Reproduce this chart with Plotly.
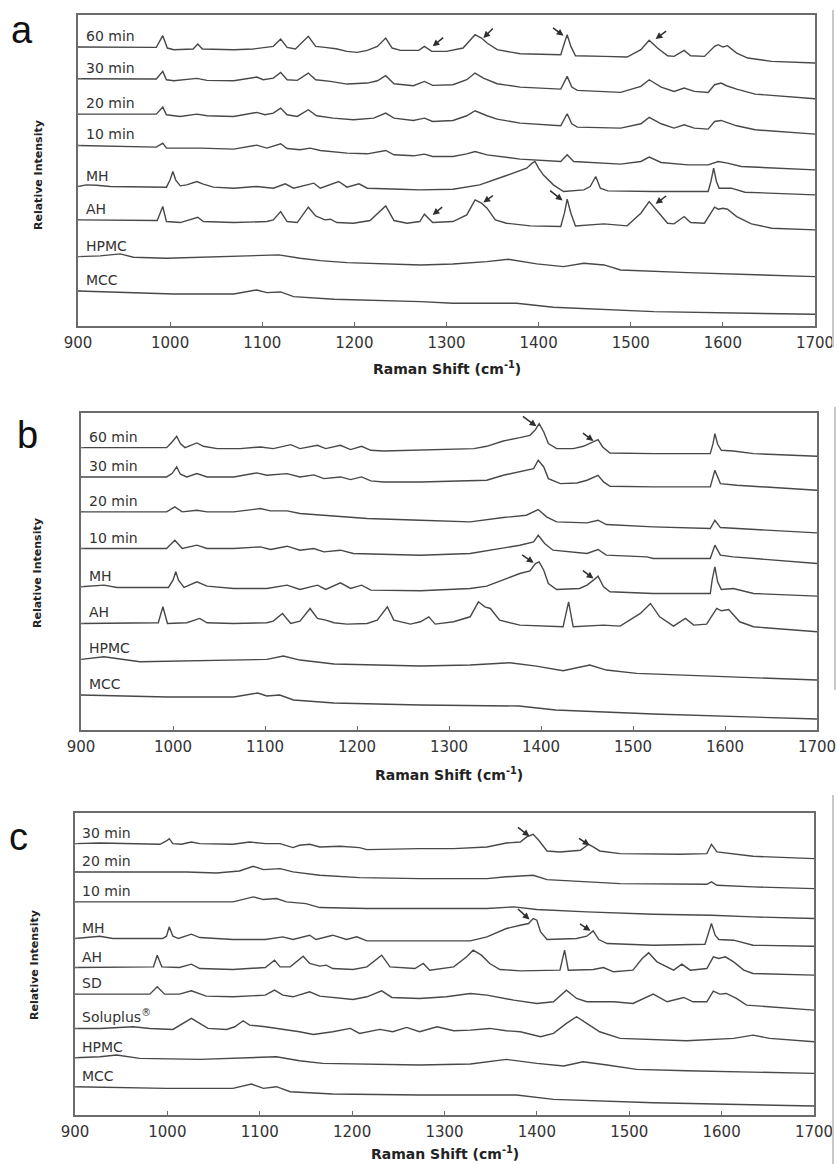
import plotly.graph_objects as go

# ---------------- Panel a : stacked Raman spectra (arbitrary units) ----------------
A_LABELS = ["60 min", "30 min", "20 min", "10 min", "MH", "AH", "HPMC", "MCC"]
A_OFFSETS = [836, 741, 635, 541, 418, 318, 208, 105]

A_X_60 = [900, 985, 992, 997, 1004, 1025, 1030, 1035, 1069, 1090, 1112, 1120, 1127, 1136, 1150, 1158, 1168, 1174, 1180, 1192,
          1203, 1214, 1225, 1234, 1241, 1250, 1270, 1276, 1284, 1300, 1318, 1331, 1338, 1344, 1355, 1380, 1424, 1428, 1431, 1435,
          1440, 1471, 1496, 1511, 1520, 1529, 1540, 1547, 1558, 1565, 1580, 1591, 1595, 1600, 1605, 1615, 1627, 1653, 1700]
A_I_60 = [0, -1, 34, -3, -8, -6, 9, -6, -8, -6, 2, 24, -1, -6, 32, 2, -1, -3, -5, -13,
          -16, -10, 2, 27, -3, -10, -10, 2, -13, -13, -3, 37, 27, 12, -8, -20, -23, 12, 37, 2,
          -26, -28, -30, -8, 20, -3, -26, -28, -10, -26, -28, 2, 7, 0, 4, -18, -33, -43, -48]

A_X_30 = [900, 985, 992, 996, 1004, 1029, 1040, 1069, 1094, 1101, 1112, 1120, 1127, 1138, 1150, 1158, 1174, 1192, 1214, 1225,
          1234, 1243, 1264, 1276, 1285, 1307, 1322, 1331, 1340, 1355, 1380, 1424, 1431, 1436, 1442, 1489, 1511, 1520, 1533, 1547,
          1558, 1569, 1584, 1591, 1598, 1604, 1615, 1635, 1700]
A_I_30 = [0, -1, 22, -3, -6, 1, -5, -6, 5, -3, 2, 19, -3, -5, 17, -3, -8, -16, -13, -6,
          9, -15, -21, -8, -20, -18, -3, 17, 2, -15, -25, -31, 7, -25, -35, -41, -23, -3, -25, -38,
          -28, -38, -41, -18, -13, -21, -31, -46, -60]

A_X_20 = [900, 985, 992, 996, 1011, 1029, 1040, 1069, 1094, 1103, 1112, 1120, 1127, 1138, 1150, 1159, 1177, 1199, 1221, 1234,
          1243, 1264, 1271, 1276, 1285, 1307, 1322, 1331, 1344, 1355, 1380, 1424, 1431, 1436, 1442, 1489, 1511, 1520, 1533, 1547,
          1558, 1569, 1584, 1591, 1598, 1605, 1615, 1635, 1700]
A_I_20 = [0, 0, 21, -2, -7, 0, -5, -7, 5, -2, 3, 18, -2, -7, 13, -5, -12, -17, -12, 3,
          -12, -19, -15, -12, -22, -19, -5, 10, -5, -15, -27, -35, 1, -29, -39, -42, -29, -10, -29, -42,
          -32, -42, -45, -22, -19, -25, -35, -47, -60]

A_X_10 = [900, 985, 992, 996, 1033, 1069, 1094, 1105, 1120, 1127, 1141, 1152, 1163, 1192, 1214, 1234, 1243, 1264, 1271, 1276,
          1285, 1307, 1322, 1331, 1344, 1380, 1424, 1431, 1438, 1489, 1511, 1520, 1533, 1562, 1584, 1595, 1605, 1620, 1700]
A_I_10 = [0, -5, 7, -8, -8, -11, 1, -8, 5, -9, -13, -8, -15, -23, -25, -15, -28, -31, -28, -26,
          -33, -33, -25, -18, -28, -41, -48, -28, -48, -56, -48, -35, -51, -58, -58, -48, -53, -63, -73]

A_X_MH = [900, 909, 920, 935, 996, 1000, 1003, 1006, 1011, 1018, 1029, 1036, 1047, 1069, 1094, 1112, 1125, 1134, 1156, 1163,
          1183, 1192, 1205, 1214, 1250, 1271, 1307, 1336, 1362, 1387, 1393, 1396, 1400, 1405, 1416, 1427, 1449, 1456, 1462, 1467,
          1475, 1525, 1584, 1587, 1590, 1593, 1596, 1609, 1624, 1700]
A_I_MH = [0, 5, 4, 0, -2, 20, 45, 20, 2, 5, 15, 7, -2, -5, 0, -5, 8, -5, 10, -5,
          15, -2, 8, -5, -8, -10, -8, 5, 30, 55, 70, 75, 55, 35, 5, -15, -10, 0, 30, -5,
          -13, -15, -15, 15, 55, 15, -5, -5, -17, -25]

A_X_AH = [900, 986, 992, 996, 1011, 1030, 1036, 1069, 1105, 1112, 1120, 1127, 1138, 1150, 1158, 1168, 1174, 1181, 1199, 1217,
          1234, 1243, 1257, 1271, 1276, 1285, 1307, 1322, 1331, 1338, 1344, 1353, 1365, 1391, 1424, 1428, 1431, 1435, 1440, 1471,
          1496, 1511, 1520, 1529, 1540, 1547, 1558, 1565, 1580, 1591, 1595, 1600, 1605, 1615, 1631, 1653, 1700]
A_I_AH = [0, -2, 40, -5, -8, 8, -5, -8, -5, 0, 25, -5, -8, 38, 12, 0, 2, -8, -10, -2,
          42, -2, -10, -5, 17, -8, -5, 15, 60, 50, 35, 0, -10, -18, -20, 20, 62, 20, -18, -12,
          -18, 20, 55, 25, -10, -12, 10, -8, -10, 38, 32, 35, 32, 10, -12, -25, -30]

A_X_HPMC = [900, 924, 946, 960, 996, 1033, 1069, 1105, 1118, 1141, 1163, 1192, 1272, 1307, 1344, 1367, 1398, 1427, 1449, 1471,
            1489, 1562, 1700]
A_I_HPMC = [0, 2, 8, -2, -5, -2, 0, 2, 5, -5, -12, -18, -25, -22, -15, -8, -22, -30, -20, -25,
            -40, -48, -60]

A_X_MCC = [900, 960, 1004, 1069, 1094, 1105, 1120, 1134, 1178, 1272, 1307, 1376, 1416, 1525, 1700]
A_I_MCC = [0, -5, -9, -9, 3, -5, -3, -17, -25, -32, -37, -37, -49, -62, -70]

A_X = [A_X_60, A_X_30, A_X_20, A_X_10, A_X_MH, A_X_AH, A_X_HPMC, A_X_MCC]
A_I = [A_I_60, A_I_30, A_I_20, A_I_10, A_I_MH, A_I_AH, A_I_HPMC, A_I_MCC]

A_ARROW_X = [1285, 1340, 1427, 1527, 1285, 1340, 1426, 1527]
A_ARROW_Y = [838, 863, 870, 860, 333, 370, 376, 366]
A_ARROW_DX = [12, 11, -12, 12, 11, 11, -14, 12]
A_ARROW_DY = [-10, -11, -9, -9, -9, -8, -11, -9]

# ---------------- Panel b ----------------
B_LABELS = ["60 min", "30 min", "20 min", "10 min", "MH", "AH", "HPMC", "MCC"]
B_OFFSETS = [848, 760, 655, 545, 430, 320, 212, 105]

B_X_60 = [900, 993, 999, 1004, 1008, 1013, 1026, 1033, 1048, 1073, 1095, 1109, 1128, 1138, 1157, 1166, 1182, 1193, 1205, 1215,
          1229, 1269, 1305, 1327, 1341, 1359, 1377, 1388, 1394, 1398, 1403, 1408, 1417, 1435, 1446, 1457, 1462, 1467, 1475, 1522,
          1584, 1587, 1589, 1592, 1596, 1609, 1631, 1700]
B_I_60 = [0, 0, 17, 34, 12, 0, 14, 4, -3, -3, 2, -3, 9, -3, 7, -3, 7, -6, 4, -8,
          -10, -8, -6, -3, 4, 20, 30, 37, 54, 72, 47, 12, -3, -3, 4, 17, 24, 2, -16, -18,
          -18, 12, 42, 10, -8, -10, -18, -26]

B_X_30 = [900, 993, 999, 1004, 1008, 1015, 1026, 1037, 1066, 1091, 1102, 1124, 1138, 1153, 1164, 1182, 1193, 1205, 1215, 1229,
          1269, 1305, 1341, 1359, 1377, 1392, 1397, 1403, 1408, 1421, 1439, 1450, 1462, 1468, 1475, 1522, 1584, 1589, 1595, 1613,
          1700]
B_I_30 = [0, 0, 10, 30, 8, 0, 10, 0, 0, 12, 5, 10, 0, 6, -5, 0, -8, 0, -12, -15,
          -15, -12, -10, 5, 15, 25, 50, 30, -5, -20, -18, -10, 5, -15, -28, -30, -30, 20, -20, -25,
          -40]

B_X_20 = [900, 993, 1002, 1010, 1026, 1037, 1066, 1095, 1106, 1124, 1138, 1160, 1211, 1269, 1323, 1359, 1384, 1397, 1406, 1417,
          1450, 1462, 1471, 1522, 1584, 1589, 1595, 1700]
B_I_20 = [0, 0, 15, 0, 5, 0, 0, 10, 3, 3, -5, -10, -20, -25, -30, -17, -10, 7, -15, -30,
          -33, -25, -38, -45, -50, -25, -47, -63]

B_X_10 = [900, 993, 1002, 1010, 1026, 1037, 1066, 1095, 1106, 1124, 1138, 1153, 1164, 1182, 1196, 1269, 1323, 1359, 1377, 1392,
          1397, 1404, 1413, 1450, 1462, 1471, 1515, 1522, 1584, 1589, 1595, 1609, 1700]
B_I_10 = [0, 0, 25, 0, 10, 0, 0, 5, -3, 7, -5, 0, -10, -5, -15, -20, -15, 3, 10, 20,
          40, 15, -5, -15, -3, -20, -25, -30, -30, 10, -20, -25, -45]

B_X_MH = [900, 925, 939, 995, 1000, 1003, 1006, 1012, 1026, 1037, 1066, 1102, 1124, 1138, 1157, 1166, 1182, 1193, 1205, 1215,
          1269, 1323, 1341, 1359, 1377, 1388, 1394, 1398, 1403, 1408, 1417, 1442, 1450, 1457, 1462, 1468, 1475, 1522, 1584, 1586,
          1589, 1592, 1596, 1609, 1631, 1700]
B_I_MH = [0, 5, -2, -2, 20, 45, 20, -2, 15, 2, -5, -5, 5, -8, 5, -8, 12, -5, 5, -10,
          -12, -5, 2, 20, 40, 48, 70, 75, 50, 10, -8, -5, 5, 20, 32, 0, -15, -20, -20, 20,
          60, 15, -8, -5, -20, -28]

B_X_AH = [900, 984, 989, 994, 1015, 1029, 1037, 1066, 1102, 1109, 1119, 1128, 1138, 1149, 1157, 1166, 1175, 1189, 1211, 1222,
          1233, 1240, 1258, 1269, 1278, 1285, 1305, 1323, 1332, 1339, 1345, 1355, 1377, 1424, 1430, 1435, 1468, 1486, 1508, 1519,
          1529, 1544, 1557, 1566, 1580, 1591, 1596, 1604, 1616, 1631, 1700]
B_I_AH = [0, 2, 50, 0, 2, 15, 2, 0, 2, 7, 30, 0, 7, 45, 15, 10, 2, -2, 0, 10,
          50, 10, -2, 5, 20, -2, 5, 20, 65, 50, 45, 10, -5, -10, 65, -10, -5, -8, 30, 60,
          20, -8, 15, -5, -2, 45, 38, 42, 5, -10, -25]

B_X_HPMC = [900, 925, 964, 1030, 1066, 1102, 1120, 1138, 1175, 1269, 1323, 1366, 1395, 1424, 1453, 1471, 1504, 1558, 1700]
B_I_HPMC = [0, 8, -7, -4, -2, 0, 10, -2, -14, -20, -17, -10, -20, -34, -17, -32, -42, -47, -62]

B_X_MCC = [900, 994, 1066, 1092, 1102, 1116, 1131, 1175, 1269, 1376, 1416, 1522, 1700]
B_I_MCC = [0, -6, -6, 6, -3, 0, -15, -24, -30, -33, -45, -57, -72]

B_X = [B_X_60, B_X_30, B_X_20, B_X_10, B_X_MH, B_X_AH, B_X_HPMC, B_X_MCC]
B_I = [B_I_60, B_I_30, B_I_20, B_I_10, B_I_MH, B_I_AH, B_I_HPMC, B_I_MCC]

B_ARROW_X = [1395, 1457, 1392, 1457]
B_ARROW_Y = [912, 868, 502, 455]
B_ARROW_DX = [-15, -12, -13, -12]
B_ARROW_DY = [-11, -9, -9, -9]

# ---------------- Panel c ----------------
C_LABELS = ["30 min", "20 min", "10 min", "MH", "AH", "SD", "Soluplus<sup>®</sup>", "HPMC", "MCC"]
C_OFFSETS = [815, 730, 640, 530, 443, 363, 260, 172, 85]

C_X_30 = [900, 927, 992, 999, 1002, 1006, 1015, 1026, 1035, 1071, 1089, 1106, 1122, 1136, 1143, 1154, 1165, 1187, 1208, 1216,
          1273, 1310, 1346, 1367, 1382, 1389, 1396, 1402, 1411, 1425, 1447, 1456, 1461, 1468, 1490, 1526, 1555, 1584, 1589, 1595,
          1613, 1634, 1700]
C_I_30 = [0, 2, -2, 8, 15, 0, -2, 5, 0, -2, 5, 0, 0, -12, -5, -2, -10, -8, -12, -18,
          -15, -15, -10, 2, 5, 20, 28, 10, -22, -25, -20, -2, -10, -22, -30, -32, -32, -30, -2, -25,
          -30, -38, -45]

C_X_20 = [900, 963, 999, 1021, 1053, 1078, 1093, 1104, 1122, 1136, 1165, 1208, 1273, 1346, 1364, 1396, 1411, 1454, 1490, 1584,
          1589, 1595, 1634, 1700]
C_I_20 = [0, 0, 0, 0, -3, 3, 17, 7, 10, 0, -10, -17, -20, -20, -15, -10, -23, -30, -35, -37,
          -30, -40, -45, -50]

C_X_10 = [900, 999, 1071, 1093, 1104, 1118, 1129, 1150, 1165, 1216, 1273, 1346, 1375, 1400, 1454, 1526, 1589, 1634, 1700]
C_I_10 = [0, 0, 0, 15, 7, 10, 0, -5, -17, -20, -20, -20, -15, -23, -30, -37, -40, -45, -50]

C_X_MH = [900, 927, 941, 995, 999, 1002, 1006, 1012, 1026, 1035, 1071, 1106, 1125, 1136, 1154, 1161, 1179, 1194, 1205, 1216,
          1273, 1328, 1346, 1367, 1382, 1391, 1396, 1400, 1404, 1411, 1443, 1454, 1461, 1467, 1476, 1526, 1582, 1586, 1589, 1593,
          1597, 1613, 1634, 1700]
C_I_MH = [0, 7, 0, 0, 7, 35, 7, 0, 13, 3, -3, -3, 5, -3, 10, -3, 10, -3, 5, -7,
          -7, -7, 5, 30, 40, 45, 60, 55, 20, -3, 0, 7, 23, -3, -15, -20, -17, 15, 45, 10,
          -3, -5, -20, -23]

C_X_AH = [900, 985, 989, 994, 1013, 1026, 1035, 1071, 1106, 1116, 1122, 1133, 1147, 1154, 1165, 1172, 1179, 1201, 1216, 1232,
          1241, 1268, 1277, 1284, 1310, 1324, 1331, 1340, 1349, 1360, 1382, 1425, 1430, 1434, 1461, 1472, 1483, 1504, 1514, 1521,
          1530, 1548, 1557, 1566, 1584, 1591, 1597, 1604, 1613, 1624, 1634, 1700]
C_I_AH = [0, 2, 37, 2, 0, 10, -3, -6, 0, 22, 2, 2, 34, 12, 4, 7, -3, -6, 2, 37,
          2, -3, 12, -8, 2, 32, 52, 37, 12, -6, -10, -8, 52, -8, -6, 0, -13, -8, 27, 44,
          17, -8, 10, -8, -3, 32, 27, 32, 17, -8, -18, -23]

C_X_SD = [900, 981, 989, 997, 1013, 1026, 1042, 1071, 1106, 1116, 1125, 1136, 1154, 1165, 1201, 1216, 1232, 1243, 1273, 1302,
          1328, 1346, 1375, 1400, 1418, 1432, 1443, 1454, 1483, 1504, 1526, 1541, 1559, 1569, 1584, 1591, 1598, 1605, 1616, 1627,
          1700]
C_I_SD = [0, 0, 22, 0, 0, 10, -6, -8, -3, 12, -3, -8, 7, -6, -16, -8, 10, -10, -13, -8,
          2, -3, -18, -28, -23, 12, -13, -23, -23, -28, 0, -23, -10, -23, -23, 9, 0, 2, -13, -33,
          -48]

C_X_SOL = [900, 927, 963, 981, 1006, 1017, 1026, 1035, 1044, 1064, 1073, 1082, 1089, 1106, 1129, 1143, 1158, 1179, 1198, 1208,
           1230, 1244, 1259, 1273, 1292, 1310, 1328, 1349, 1367, 1382, 1404, 1418, 1432, 1443, 1454, 1468, 1490, 1526, 1562, 1613,
           1634, 1652, 1700]
C_I_SOL = [0, 0, 5, 0, -3, 15, 30, 15, 0, -3, 5, 23, 10, 5, -3, -10, -18, -10, 0, -15,
           -3, -10, 3, -10, 5, -7, -5, 0, -7, -10, -25, -15, 15, 35, 15, -10, -30, -33, -37, -30,
           -20, -30, -40]

C_X_HPMC = [900, 927, 945, 970, 1035, 1071, 1118, 1143, 1168, 1273, 1328, 1367, 1400, 1429, 1450, 1476, 1508, 1562, 1700]
C_I_HPMC = [0, 3, 8, -2, -5, -2, 3, -9, -17, -22, -19, -5, -17, -25, -12, -22, -35, -39, -47]

C_X_MCC = [900, 999, 1071, 1091, 1104, 1118, 1133, 1179, 1273, 1378, 1418, 1526, 1700]
C_I_MCC = [0, -5, -5, 8, -5, 0, -15, -22, -25, -25, -38, -48, -58]

C_X = [C_X_30, C_X_20, C_X_10, C_X_MH, C_X_AH, C_X_SD, C_X_SOL, C_X_HPMC, C_X_MCC]
C_I = [C_I_30, C_I_20, C_I_10, C_I_MH, C_I_AH, C_I_SD, C_I_SOL, C_I_HPMC, C_I_MCC]

C_ARROW_X = [1392, 1457, 1392, 1458]
C_ARROW_Y = [837, 810, 587, 553]
C_ARROW_DX = [-13, -12, -13, -12]
C_ARROW_DY = [-10, -8, -12, -8]

X_TICKS = [900, 1000, 1100, 1200, 1300, 1400, 1500, 1600, 1700]
X_TITLE = "Raman Shift (cm<sup>-1</sup>)"
Y_TITLE = "Relative Intensity"

# ---------------- figure ----------------
W, H = 837, 1164
LINE = "#484848"
FRAME = "#6b6b6b"
TXT = "#333333"

panels = [
    dict(name="a", xs=A_X, ys=A_I, offs=A_OFFSETS, labels=A_LABELS, yr=932, label_x=907,
         px=(78, 815), py=(15, 326),
         arrows=(A_ARROW_X, A_ARROW_Y, A_ARROW_DX, A_ARROW_DY),
         letter_xy=(22, 30), ytitle_xy=(38, 175), xtitle_y=368),
    dict(name="b", xs=B_X, ys=B_I, offs=B_OFFSETS, labels=B_LABELS, yr=952, label_x=906,
         px=(81, 817), py=(413, 730),
         arrows=(B_ARROW_X, B_ARROW_Y, B_ARROW_DX, B_ARROW_DY),
         letter_xy=(27, 435), ytitle_xy=(37, 573), xtitle_y=774),
    dict(name="c", xs=C_X, ys=C_I, offs=C_OFFSETS, labels=C_LABELS, yr=907, label_x=905,
         px=(75, 814), py=(813, 1115),
         arrows=(C_ARROW_X, C_ARROW_Y, C_ARROW_DX, C_ARROW_DY),
         letter_xy=(18, 837), ytitle_xy=(34, 965), xtitle_y=1153),
]

fig = go.Figure()
annotations = []
layout_axes = {}

for k, p in enumerate(panels):
    sfx = "" if k == 0 else str(k + 1)
    xref, yref = "x" + sfx, "y" + sfx
    x0, x1 = p["px"]
    y0, y1 = p["py"]

    for xs, ys, off in zip(p["xs"], p["ys"], p["offs"]):
        fig.add_trace(go.Scatter(
            x=xs, y=[off + v for v in ys], mode="lines",
            line=dict(color=LINE, width=1.4), xaxis=xref, yaxis=yref,
            showlegend=False, hoverinfo="skip"))

    layout_axes["xaxis" + sfx] = dict(
        domain=[x0 / W, x1 / W], anchor=yref, range=[900, 1700], tickvals=X_TICKS,
        ticks="inside", ticklen=4, tickcolor=FRAME, showline=True, mirror=True,
        linecolor=FRAME, linewidth=2, showgrid=False, zeroline=False, automargin=False,
        ticklabelstandoff=2,
        tickfont=dict(family="DejaVu Sans", size=15, color=TXT))
    layout_axes["yaxis" + sfx] = dict(
        domain=[1 - y1 / H, 1 - y0 / H], anchor=xref, range=[0, p["yr"]], tickvals=p["offs"],
        ticks="inside", ticklen=3, tickcolor=FRAME, showticklabels=False,
        showline=True, mirror=True, linecolor=FRAME, linewidth=2, automargin=False,
        showgrid=False, zeroline=False)

    # spectrum labels
    for lab, off in zip(p["labels"], p["offs"]):
        annotations.append(dict(x=p["label_x"], y=off, xref=xref, yref=yref, text=lab,
                                showarrow=False, xanchor="left", yanchor="bottom", yshift=1,
                                font=dict(family="DejaVu Sans", size=14, color=TXT)))
    # arrows marking band changes
    for hx, hy, dx, dy in zip(*p["arrows"]):
        annotations.append(dict(x=hx, y=hy, xref=xref, yref=yref, text="", showarrow=True,
                                ax=dx, ay=dy, arrowhead=2, arrowsize=0.9, arrowwidth=1.5,
                                arrowcolor="#2e2e2e", standoff=0))
    # x title
    annotations.append(dict(x=(x0 + x1) / 2 / W, y=1 - p["xtitle_y"] / H, xref="paper", yref="paper",
                            text=X_TITLE, showarrow=False, xanchor="center", yanchor="middle",
                            font=dict(family="DejaVu Sans", size=14, color="#222222", weight="bold")))
    # panel letter
    lx, ly = p["letter_xy"]
    annotations.append(dict(x=lx / W, y=1 - ly / H, xref="paper", yref="paper", text=p["name"],
                            showarrow=False, xanchor="center", yanchor="middle",
                            font=dict(family="Arial", size=38, color="#111111")))
    # y title
    tx_, ty_ = p["ytitle_xy"]
    annotations.append(dict(x=tx_ / W, y=1 - ty_ / H, xref="paper", yref="paper",
                            text=Y_TITLE, textangle=-90, showarrow=False,
                            xanchor="center", yanchor="middle",
                            font=dict(family="DejaVu Sans", size=11, color="#222222", weight="bold")))

# light crop edges on the right
shapes = [
    dict(type="line", xref="paper", yref="paper", x0=833 / W, x1=833 / W, y0=1 - 347 / H, y1=1 - 10 / H,
         line=dict(color="#c8c8c8", width=2)),
    dict(type="line", xref="paper", yref="paper", x0=835 / W, x1=835 / W, y0=1 - 690 / H, y1=1 - 407 / H,
         line=dict(color="#c8c8c8", width=2)),
    dict(type="line", xref="paper", yref="paper", x0=833 / W, x1=833 / W, y0=0, y1=1 - 795 / H,
         line=dict(color="#c8c8c8", width=2)),
]

fig.update_layout(width=W, height=H, margin=dict(l=0, r=0, t=0, b=0, autoexpand=False),
                  paper_bgcolor="white", plot_bgcolor="white",
                  annotations=annotations, shapes=shapes, **layout_axes)

fig.write_html("out.html",
               config={"displayModeBar": False, "staticPlot": True},
               post_script="document.body.style.margin='0px';"
                           "document.documentElement.style.overflow='hidden';")
